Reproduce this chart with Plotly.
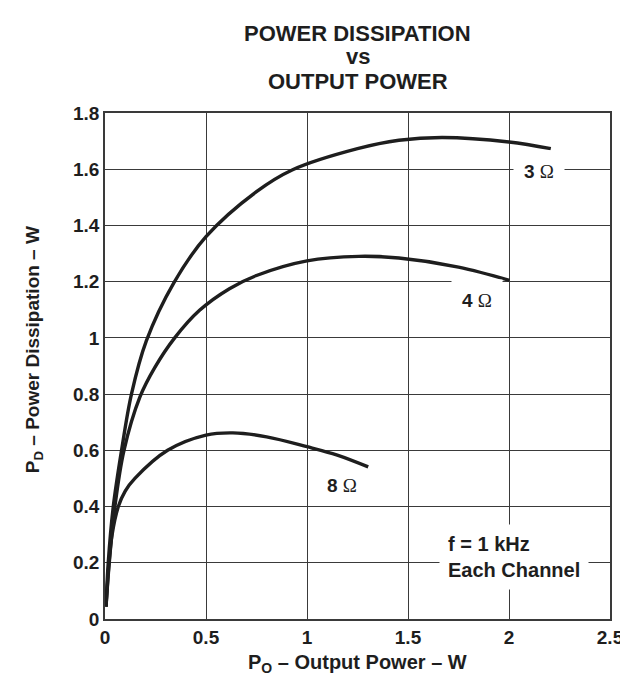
import plotly.graph_objects as go

# Data
x_3ohm = [0.005, 0.016, 0.041, 0.082, 0.131, 0.205, 0.34, 0.5, 0.75, 0.929, 1.25, 1.455, 1.67, 2.0, 2.207]
y_3ohm = [0.044, 0.2, 0.4, 0.6, 0.8, 0.99, 1.195, 1.36, 1.52, 1.598, 1.673, 1.703, 1.713, 1.697, 1.673]

x_4ohm = [0.005, 0.021, 0.049, 0.094, 0.173, 0.247, 0.345, 0.468, 0.616, 0.75, 1.0, 1.257, 1.455, 1.75, 2.002]
y_4ohm = [0.044, 0.2, 0.4, 0.6, 0.79, 0.895, 1.0, 1.098, 1.175, 1.222, 1.274, 1.29, 1.284, 1.252, 1.205]

x_8ohm = [0.005, 0.02, 0.035, 0.066, 0.1, 0.148, 0.31, 0.5, 0.633, 0.8, 1.0, 1.15, 1.303]
y_8ohm = [0.044, 0.2, 0.3, 0.4, 0.455, 0.5, 0.6, 0.654, 0.662, 0.648, 0.613, 0.583, 0.541]

x_ticks = [0, 0.5, 1, 1.5, 2, 2.5]
y_ticks = [0, 0.2, 0.4, 0.6, 0.8, 1, 1.2, 1.4, 1.6, 1.8]

FONT = "Liberation Sans, Arial, sans-serif"
SERIF = "Liberation Serif, Times New Roman, serif"
INK = "#1e1e1e"
GRID = "#3a3a3a"

# plot area on the page (pixels): x 105..612, y 113..619
PX0, PX1, PY0, PY1 = 105, 612, 113, 619
W, H = PX1 - PX0, PY1 - PY0
OFF = 8  # page offset of the figure inside the browser window

def px(xp):
    return (xp - PX0) / W

def py(yp):
    return (PY1 - yp) / H

fig = go.Figure()
for xs, ys in [(x_3ohm, y_3ohm), (x_4ohm, y_4ohm), (x_8ohm, y_8ohm)]:
    fig.add_trace(go.Scatter(x=xs, y=ys, mode="lines",
                             line=dict(color=INK, width=3.4, shape="spline", smoothing=1.0),
                             showlegend=False, hoverinfo="skip"))

def ohm(n):
    return f"<b>{n}</b> <span style='font-family:{SERIF}'>Ω</span>"

def label(x, y, text, pad, size=19, **kw):
    fig.add_annotation(x=x, y=y, xref="x", yref="y", text=text, showarrow=False,
                       font=dict(family=FONT, size=size, color=INK),
                       bgcolor="white", borderpad=pad, **kw)

label(2.15, 1.593, ohm(3), 10)
label(1.84, 1.134, ohm(4), 10)
label(1.174, 0.476, ohm(8), 3)
label(2.024, 0.22, "<b>f = 1 kHz<br>Each Channel</b>", 8, size=20, align="left")

# Title lines
for text, yp in [("POWER DISSIPATION", 33), ("vs", 57), ("OUTPUT POWER", 82)]:
    fig.add_annotation(x=0.5, y=py(yp), xref="paper", yref="paper",
                       text=f"<b>{text}</b>", showarrow=False, xanchor="center", yanchor="middle",
                       font=dict(family=FONT, size=22, color=INK))

# Axis titles
fig.add_annotation(x=0.5, y=py(663), xref="paper", yref="paper",
                   text="<b>P<sub>O</sub> – Output Power – W</b>", showarrow=False,
                   xanchor="center", yanchor="middle",
                   font=dict(family=FONT, size=20, color=INK))
fig.add_annotation(x=px(34), y=py(350), xref="paper", yref="paper",
                   text="<b>P<sub>D</sub> – Power Dissipation – W</b>", showarrow=False,
                   textangle=-90, xanchor="center", yanchor="middle",
                   font=dict(family=FONT, size=19, color=INK))

fig.update_layout(
    width=628, height=681,
    margin=dict(l=PX0 - OFF, r=628 - PX1 + OFF, t=PY0 - OFF, b=681 - PY1 + OFF),
    paper_bgcolor="white", plot_bgcolor="white",
    font=dict(family=FONT, color=INK),
)
fig.update_xaxes(range=[0, 2.5], tickvals=x_ticks, ticktext=[f"<b>{v:g}</b>" for v in x_ticks],
                 showgrid=True, gridcolor=GRID, gridwidth=1.3,
                 showline=True, linecolor=GRID, linewidth=1.6, mirror=True,
                 ticks="", zeroline=False,
                 tickfont=dict(family=FONT, size=19, color=INK))
fig.update_yaxes(range=[0, 1.8], tickvals=y_ticks, ticktext=[f"<b>{v:g}</b>" for v in y_ticks],
                 showgrid=True, gridcolor=GRID, gridwidth=1.3,
                 showline=True, linecolor=GRID, linewidth=1.6, mirror=True,
                 ticks="", zeroline=False,
                 tickfont=dict(family=FONT, size=19, color=INK))

fig.write_html("out.html")
